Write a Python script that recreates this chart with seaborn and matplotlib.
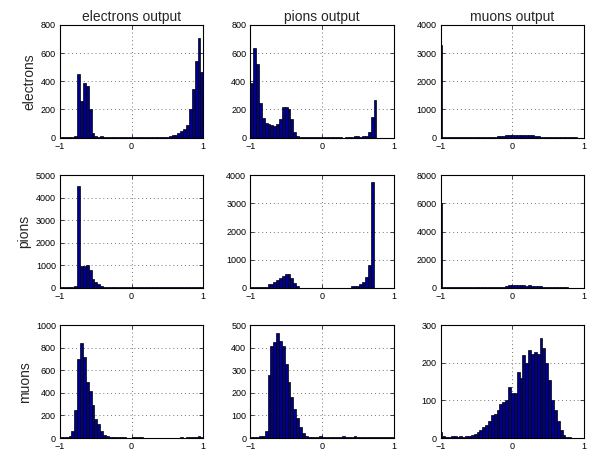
import numpy as np
import pandas as pd
import matplotlib
matplotlib.use("Agg")
import matplotlib.pyplot as plt
import seaborn as sns

# ---------------- data ----------------
classes = ["electrons", "pions", "muons"]
titles = ["electrons output", "pions output", "muons output"]

# 50 histogram bins of width 0.04
n_bins = 50
bin_w = 0.04
centers_std = np.round(-1 + bin_w / 2 + bin_w * np.arange(n_bins), 3)   # -0.98 ... 0.98
centers_mu = np.round(-1 + bin_w * np.arange(n_bins), 3)                 # -1.00 ... 0.96

# row = true class, column = network output
e_out_e = [5, 5, 6, 8, 8, 15, 450, 260, 390, 365, 200, 30, 12, 8, 12, 6,
           5, 4, 4, 3, 4, 5, 4, 4, 6, 5, 6, 5, 4, 4, 5, 4, 5, 5, 6, 5, 6, 8,
           14, 16, 21, 30, 45, 60, 87, 207, 346, 541, 710, 463]
e_out_p = [390, 635, 520, 245, 140, 105, 95, 88, 80, 100, 130, 220, 215, 205, 130, 40, 10,
           5, 5, 5, 5, 5, 5, 4, 4, 5, 5, 5, 5, 5, 5, 5, 0, 5, 6, 8, 10,
           10, 8, 12, 15, 40, 150, 270, 0, 0, 0, 0, 0, 0]
e_out_m = [3300, 30, 20, 15, 25, 20, 15, 10, 20, 25, 15, 20, 25, 20, 30, 25, 30, 35, 30, 40, 45, 50,
           60, 80, 90, 100, 105, 110, 100, 110, 95, 90, 80, 60, 45,
           40, 35, 30, 30, 25, 25, 20, 20, 15, 15, 25, 20, 10, 5, 5]

p_out_e = [30, 35, 30, 40, 45, 100, 4500, 950, 950, 1000, 800, 400, 250, 150, 80, 40,
           30, 30, 25, 25, 25, 20, 20, 20, 20, 20, 20, 20, 20, 20, 20, 20, 20, 20, 20, 20,
           20, 20, 20, 20, 20, 20, 20, 25, 25, 30, 30, 35, 40, 30]
p_out_p = [20, 20, 20, 20, 20, 25, 150, 150, 200, 280, 350, 430, 480, 480, 350, 180, 50,
           10, 10, 10, 10, 10, 10, 10, 10, 10, 10, 10, 10, 10, 10, 10, 10, 10, 10,
           80, 80, 80, 150, 200, 400, 800, 3750, 0, 0, 0, 0, 0, 0, 0]
p_out_m = [6000, 40, 30, 35, 30, 40, 35, 30, 25, 30, 35, 30, 40, 35, 30, 40, 35, 40, 45, 40, 50,
           70, 90, 120, 170, 190, 180, 190, 170, 180, 160, 170, 150, 140, 120, 100, 80, 60, 45,
           40, 35, 30, 40, 35, 30, 20, 15, 10, 5, 0]

m_out_e = [5, 5, 8, 15, 60, 250, 700, 840, 720, 500, 420, 290, 170, 120, 65, 30, 15,
           8, 6, 5, 5, 10, 5, 3, 4, 5, 8, 12, 5, 3, 4, 3, 4, 3, 3, 4, 3, 3, 3, 4, 3, 3,
           5, 3, 5, 8, 10, 12, 15, 10]
m_out_p = [5, 3, 5, 8, 10, 30, 280, 410, 425, 465, 430, 410, 330, 250, 180, 130, 90, 50, 20, 10,
           5, 5, 3, 5, 8, 5, 3, 3, 5, 3, 5, 3, 8, 5, 3, 5, 8, 3, 5, 3, 3, 5, 3, 3, 3, 5, 3, 3, 3, 3]
m_out_m = [15, 5, 3, 3, 5, 5, 3, 4, 3, 5, 5, 8, 10, 15, 22, 30, 35, 45, 60, 65, 75, 90, 95, 100,
           135, 120, 120, 175, 160, 220, 200, 235, 225, 230, 225, 265, 240, 200, 155, 100, 75, 45,
           20, 8, 3, 2, 1, 0, 0, 0]

counts = [[e_out_e, e_out_p, e_out_m],
          [p_out_e, p_out_p, p_out_m],
          [m_out_e, m_out_p, m_out_m]]

y_max = [[800, 800, 4000], [5000, 4000, 8000], [1000, 500, 300]]
y_step = [[200, 200, 1000], [1000, 1000, 2000], [200, 100, 100]]

# ---------------- style ----------------
sns.set_style("white")
plt.rcParams["font.family"] = ["Liberation Sans", "DejaVu Sans"]
plt.rcParams["axes.unicode_minus"] = True

bar_color = "#00008C"

fig, axes = plt.subplots(3, 3, figsize=(5.91, 4.54), dpi=100)
fig.subplots_adjust(left=60 / 591, right=584 / 591, bottom=16 / 454, top=1 - 25 / 454,
                    wspace=0.329, hspace=0.333)

for r in range(3):
    for c in range(3):
        ax = axes[r, c]
        centers = centers_mu if c == 2 else centers_std
        edges = [float(v) for v in np.append(centers - bin_w / 2, centers[-1] + bin_w / 2)]
        df = pd.DataFrame({"output": centers, "count": np.asarray(counts[r][c], dtype=float)})
        sns.histplot(data=df, x="output", weights="count", bins=edges, ax=ax,
                     color=bar_color, edgecolor="black", linewidth=0.5, alpha=1.0)
        ax.set_xlim(-1, 1)
        ax.set_ylim(0, y_max[r][c])
        ax.set_xticks([-1, 0, 1])
        ax.set_xticklabels(["\u22121", "0", "1"])
        ax.set_yticks(np.arange(0, y_max[r][c] + 1, y_step[r][c]))
        ax.set_axisbelow(True)
        ax.grid(True, linestyle=(0, (1, 3)), color="0.45", linewidth=0.7)
        ax.tick_params(direction="in", length=3, width=0.6, labelsize=6.5, pad=3,
                       top=True, right=True, bottom=True, left=True, labelcolor="black")
        for s in ax.spines.values():
            s.set_visible(True)
            s.set_color("black")
            s.set_linewidth(0.8)
        ax.set_xlabel("")
        ax.set_ylabel("")
        if r == 0:
            ax.set_title(titles[c], fontsize=10, pad=3)
        if c == 0:
            ax.set_ylabel(classes[r], fontsize=10, labelpad=3)

fig.savefig("out.png", dpi=100)
